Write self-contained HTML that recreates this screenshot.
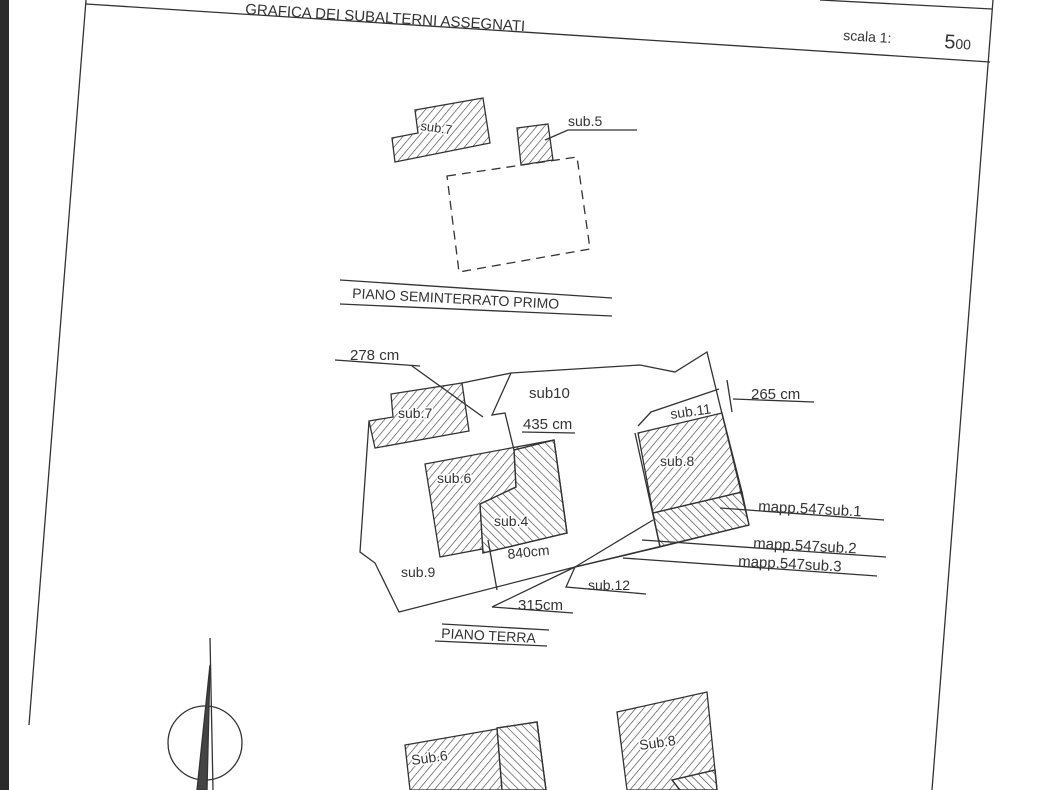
<!DOCTYPE html>
<html><head><meta charset="utf-8"><style>
html,body{margin:0;padding:0;background:#fff}
svg{display:block}
text{font-family:"Liberation Sans",sans-serif;fill:#333}
</style></head><body>
<svg width="1064" height="790" viewBox="0 0 1064 790" xmlns="http://www.w3.org/2000/svg">
<defs>
<pattern id="h1" width="6" height="6" patternUnits="userSpaceOnUse" patternTransform="rotate(40)">
<line x1="0" y1="0" x2="0" y2="6" stroke="#444" stroke-width="1.3"/></pattern>
<pattern id="h2" width="6" height="6" patternUnits="userSpaceOnUse" patternTransform="rotate(-45)">
<line x1="0" y1="0" x2="0" y2="6" stroke="#444" stroke-width="1.3"/></pattern>
</defs>
<rect width="1064" height="790" fill="#fff"/>
<rect x="0" y="0" width="9" height="790" fill="#2b2b2b"/>
<g stroke="#333" fill="none" stroke-width="1.3">
<line x1="86" y1="0" x2="29" y2="725"/>
<line x1="993" y1="0" x2="932" y2="790"/>
<line x1="86" y1="4" x2="990" y2="62"/>
<line x1="820" y1="0" x2="992" y2="9"/>
<polygon points="415,110 483,98 490,143 395,162 392,138 418,133" fill="url(#h1)"/>
<polygon points="517,128 548,124 553,160 521,165" fill="url(#h1)"/>
<polyline points="545,140 568,130 637,130"/>
<polygon points="447,176 577,157 590,249 459,272" stroke-dasharray="9,6"/>
<line x1="340" y1="280" x2="612" y2="298"/>
<line x1="340" y1="304" x2="612" y2="316"/>
<polygon points="391,394 462,383 469,431 375,448 369,421 393,417" fill="url(#h1)"/>
<polygon points="425,464 554,440 567,533 440,557" fill="url(#h1)"/>
<polygon points="514,450 554,440 567,533 483,553 480,504 516,487" fill="#fff"/>
<polygon points="514,450 554,440 567,533 483,553 480,504 516,487" fill="url(#h2)"/>
<polygon points="638,433 722,413 742,492 653,513" fill="url(#h1)"/>
<polygon points="653,513 742,492 749,525 660,547" fill="url(#h2)"/>
<polyline points="369,421 360,552 375,563 399,612 575,567 566,587 646,594"/>
<polyline points="462,383 511,373 640,365 675,372 707,352 749,525"/>
<polyline points="511,373 492,415 505,413 514,450"/>
<polyline points="638,426 651,412 719,389"/>
<line x1="635" y1="433" x2="660" y2="547"/>
<polyline points="488,540 497,590"/>
<line x1="575" y1="567" x2="653" y2="520"/>
<line x1="575" y1="567" x2="660" y2="547"/>
<line x1="575" y1="567" x2="749" y2="525"/>
<line x1="720" y1="508" x2="884" y2="520"/>
<line x1="642" y1="540" x2="886" y2="557"/>
<line x1="623" y1="558" x2="877" y2="576"/>
<line x1="335" y1="360" x2="420" y2="366"/>
<line x1="412" y1="366" x2="483" y2="417"/>
<line x1="733" y1="399" x2="814" y2="402"/>
<line x1="727" y1="380" x2="732" y2="412"/>
<line x1="522" y1="432" x2="575" y2="433"/>
<line x1="492" y1="607" x2="573" y2="613"/>
<line x1="492" y1="607" x2="575" y2="567"/>
<line x1="442" y1="624" x2="549" y2="630"/>
<line x1="435" y1="641" x2="547" y2="646"/>
<line x1="210" y1="638" x2="213" y2="790"/>
<ellipse cx="205" cy="743" rx="37" ry="37"/>
<polygon points="210,665 207,790 197,790" fill="#444"/>
<polygon points="405,745 537,722 546,790 410,790" fill="url(#h1)"/>
<polygon points="497,728 537,722 546,790 502,790" fill="#fff"/>
<polygon points="497,728 537,722 546,790 502,790" fill="url(#h2)"/>
<polygon points="617,712 707,692 717,790 627,790" fill="url(#h1)"/>
<polygon points="672,780 715,770 717,790 680,790" fill="#fff"/>
<polygon points="672,780 715,770 717,790 680,790" fill="url(#h2)"/>
</g>
<g font-size="14">
<text x="245" y="14" transform="rotate(3.5 245 14)" font-size="15">GRAFICA DEI SUBALTERNI ASSEGNATI</text>
<text x="843" y="40" transform="rotate(3.5 843 40)">scala 1:</text>
<text x="944" y="48" font-size="20" transform="rotate(3.5 944 48)">5<tspan font-size="14">00</tspan></text>
<text x="420" y="130" transform="rotate(8 420 130)" font-size="13" stroke="#fff" stroke-width="3" paint-order="stroke">sub.7</text>
<text x="568" y="126" font-size="14">sub.5</text>
<text x="352" y="298" transform="rotate(3 352 298)" font-size="14">PIANO SEMINTERRATO PRIMO</text>
<text x="350" y="360" font-size="15">278 cm</text>
<text x="529" y="398" font-size="15">sub10</text>
<text x="398" y="418" font-size="14" stroke="#fff" stroke-width="3" paint-order="stroke">sub.7</text>
<text x="523" y="429" font-size="15">435 cm</text>
<text x="751" y="399" font-size="15">265 cm</text>
<text x="671" y="419" font-size="14" stroke="#fff" stroke-width="3" paint-order="stroke" transform="rotate(-8 671 419)">sub.11</text>
<text x="660" y="466" font-size="14" stroke="#fff" stroke-width="3" paint-order="stroke">sub.8</text>
<text x="437" y="483" font-size="14" stroke="#fff" stroke-width="3" paint-order="stroke">sub.6</text>
<text x="494" y="526" font-size="14" stroke="#fff" stroke-width="3" paint-order="stroke">sub.4</text>
<text x="758" y="511" font-size="15" transform="rotate(3 758 511)">mapp.547sub.1</text>
<text x="753" y="548" font-size="15" transform="rotate(3 753 548)">mapp.547sub.2</text>
<text x="738" y="566" font-size="15" transform="rotate(3 738 566)">mapp.547sub.3</text>
<text x="508" y="559" font-size="14" stroke="#fff" stroke-width="3" paint-order="stroke" transform="rotate(-6 508 559)">840cm</text>
<text x="401" y="577" font-size="14">sub.9</text>
<text x="588" y="590" font-size="14">sub.12</text>
<text x="518" y="610" font-size="15">315cm</text>
<text x="441" y="638" font-size="14" transform="rotate(3 441 638)">PIANO TERRA</text>
<text x="412" y="765" font-size="14" stroke="#fff" stroke-width="3" paint-order="stroke" transform="rotate(-8 412 765)">Sub.6</text>
<text x="640" y="750" font-size="14" stroke="#fff" stroke-width="3" paint-order="stroke" transform="rotate(-8 640 750)">Sub.8</text>
</g>
</svg>
</body></html>
